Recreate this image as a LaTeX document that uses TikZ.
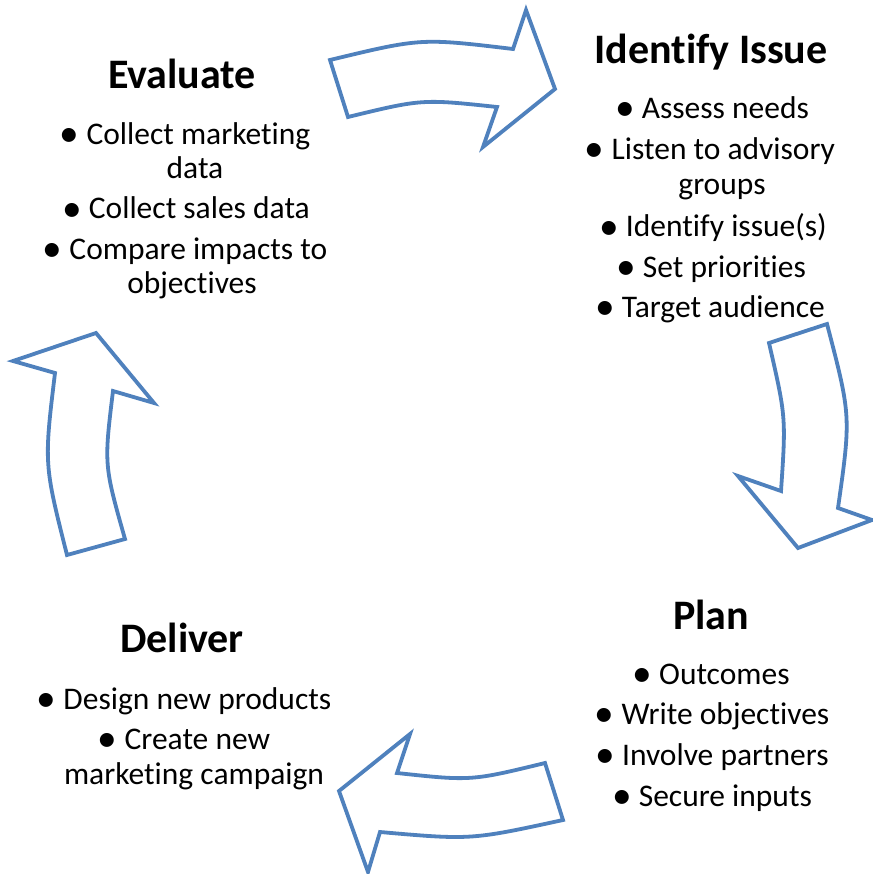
\documentclass[tikz,border=0pt]{standalone}
\usepackage{fontspec}
\usepackage{graphicx}
\setmainfont{Carlito}[Ligatures=NoCommon]
\definecolor{arrowblue}{RGB}{79,129,189}
\newcommand{\bul}{\raisebox{-2pt}[0pt][0pt]{\scalebox{1.25}{•}}}
\tikzset{
  heading/.style={font=\fontsize{42}{46}\selectfont\bfseries, anchor=base, inner sep=0pt},
  bullettext/.style={font=\fontsize{31.5}{35}\selectfont, anchor=base, inner sep=0pt},
  cyclearrow/.style={draw=arrowblue, line width=3.8pt, line join=miter, fill=white}
}
\begin{document}
\begin{tikzpicture}[x=1pt,y=-1pt]
\useasboundingbox (0,0) rectangle (872,874);

% the four curved arrows
\draw[cyclearrow] (330,60) .. controls (421,38) .. (513,49) -- (526,10) -- (555,89)
  -- (483,147) -- (497,107) .. controls (422,99) .. (348,117) -- cycle;
\draw[cyclearrow] (827,324) -- (769,343) .. controls (786,417) .. (781,491) -- (738,476)
  -- (798,548) -- (872,520) -- (838,508) .. controls (851,416) .. (827,324) -- cycle;
\draw[cyclearrow] (563,820) -- (545,763) .. controls (471,781) .. (397,773) -- (410,734)
  -- (339,791) -- (368,872) -- (380,832) .. controls (471,840) .. (563,820) -- cycle;
\draw[cyclearrow] (67,555) -- (125,539) .. controls (104,465) .. (113,391) -- (154,403)
  -- (96,333) -- (13,361) -- (55,373) .. controls (44,464) .. (67,555) -- cycle;

% Evaluate
\node[heading] (evaluate) at (182,89) {Evaluate};
\node[bullettext] (ev1) at (185,145) {\bul\ Collect marketing};
\node[bullettext] (ev1b) at (195,179) {data};
\node[bullettext] (ev2) at (186,219) {\bul\ Collect sales data};
\node[bullettext] (ev3) at (185,259) {\bul\ Compare impacts to};
\node[bullettext] (ev3b) at (192,294) {objectives};

% Identify Issue
\node[heading] (identify) at (711,64) {Identify Issue};
\node[bullettext] (id1) at (712,119) {\bul\ Assess needs};
\node[bullettext] (id2) at (710,160) {\bul\ Listen to advisory};
\node[bullettext] (id2b) at (722,195) {groups};
\node[bullettext] (id3) at (713,237) {\bul\ Identify issue(s)};
\node[bullettext] (id4) at (711,277) {\bul\ Set priorities};
\node[bullettext] (id5) at (710,317) {\bul\ Target audience};

% Plan
\node[heading] (plan) at (711,629) {Plan};
\node[bullettext] (pl1) at (711,684) {\bul\ Outcomes};
\node[bullettext] (pl2) at (712,724) {\bul\ Write objectives};
\node[bullettext] (pl3) at (712,765) {\bul\ Involve partners};
\node[bullettext] (pl4) at (712,806) {\bul\ Secure inputs};

% Deliver
\node[heading] (deliver) at (182,652) {Deliver};
\node[bullettext] (de1) at (184,709) {\bul\ Design new products};
\node[bullettext] (de2) at (184,749) {\bul\ Create new};
\node[bullettext] (de2b) at (194,784) {marketing campaign};
\end{tikzpicture}
\end{document}
